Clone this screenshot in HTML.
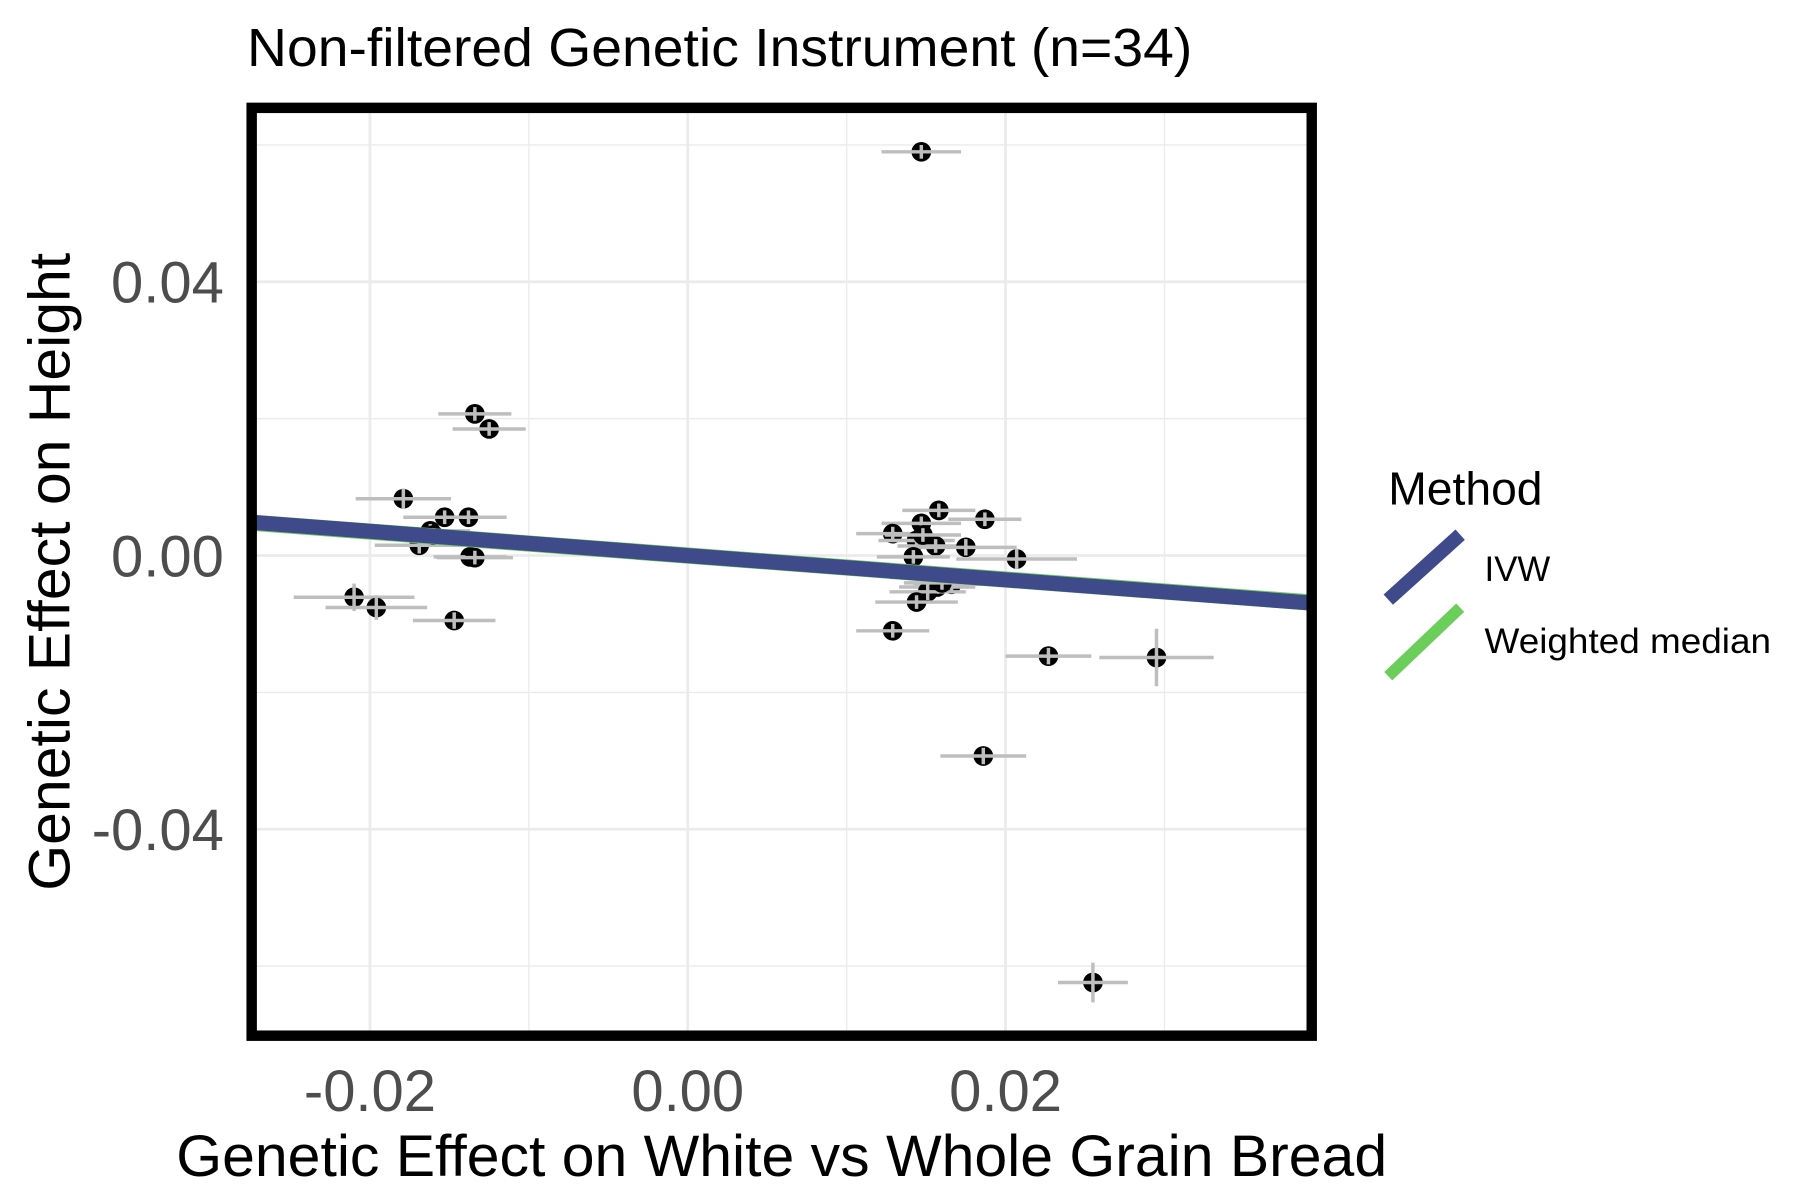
<!DOCTYPE html>
<html><head><meta charset="utf-8"><style>
html,body{margin:0;padding:0;background:#fff;}
svg{display:block;}
text{font-family:"Liberation Sans",sans-serif;}
</style></head><body>
<svg id="chart" width="1800" height="1200" viewBox="0 0 1552 1034.67" preserveAspectRatio="none" xmlns="http://www.w3.org/2000/svg">
<rect x="0" y="0" width="1552" height="1035" fill="#fff"/>
<text x="213" y="57" font-size="46" textLength="815" lengthAdjust="spacingAndGlyphs" fill="#000">Non-filtered Genetic Instrument (n=34)</text>
<g id="grid"></g>
<g id="points"></g>
<g id="lines"></g>
<rect x="217" y="93" width="914" height="800" fill="none" stroke="#000" stroke-width="9"/>
<g id="ticks"></g>
<text x="152" y="1014" font-size="50" textLength="1044" lengthAdjust="spacingAndGlyphs" fill="#000">Genetic Effect on White vs Whole Grain Bread</text>
<text transform="translate(60,768) rotate(-90)" font-size="50" textLength="550" lengthAdjust="spacingAndGlyphs" fill="#000">Genetic Effect on Height</text>
<g>
<text x="1197" y="435" font-size="40" textLength="133" lengthAdjust="spacingAndGlyphs" fill="#000">Method</text>
<line x1="1197" y1="517" x2="1259" y2="461" stroke="#3F4A8A" stroke-width="12"/>
<text x="1280" y="501" font-size="30" fill="#000">IVW</text>
<line x1="1197" y1="583" x2="1259" y2="524" stroke="#6BCD5A" stroke-width="10"/>
<text x="1280" y="563" font-size="30" textLength="247" lengthAdjust="spacingAndGlyphs" fill="#000">Weighted median</text>
</g>
</svg>
<script>
const xs   = [0.0147,-0.0134,-0.0125,-0.0179,-0.0153,-0.0138,-0.0162,-0.0169,-0.0137,-0.0134,-0.0210,-0.0196,-0.0147,0.0158,0.0187,0.0147,0.0129,0.0144,0.0156,0.0175,0.0142,0.0207,0.0166,0.0157,0.0151,0.0144,0.0129,0.0227,0.0295,0.0186,0.0255,0.0160,0.0148,-0.0160];
const ys   = [0.0590,0.0207,0.0185,0.0083,0.0056,0.0056,0.0036,0.0015,-0.0002,-0.0003,-0.0061,-0.0076,-0.0095,0.0066,0.0053,0.0047,0.0032,0.0022,0.0014,0.0012,-0.0002,-0.0005,-0.0042,-0.0046,-0.0053,-0.0068,-0.0110,-0.0147,-0.0149,-0.0293,-0.0624,-0.0040,0.0030,0.0030];
const xerr = [0.0025,0.0023,0.0023,0.0030,0.0026,0.0024,0.0025,0.0028,0.0023,0.0024,0.0038,0.0032,0.0026,0.0023,0.0023,0.0025,0.0023,0.0024,0.0024,0.0032,0.0023,0.0038,0.0024,0.0024,0.0024,0.0026,0.0023,0.0027,0.0036,0.0027,0.0022,0.0024,0.0024,0.0025];
const yerr = [0.0010,0.0010,0.0010,0.0015,0.0010,0.0010,0.0010,0.0012,0.0010,0.0010,0.0020,0.0018,0.0012,0.0010,0.0010,0.0010,0.0010,0.0010,0.0010,0.0012,0.0010,0.0015,0.0010,0.0010,0.0012,0.0010,0.0010,0.0012,0.0042,0.0012,0.0029,0.0010,0.0010,0.0010];
const slopes = [-0.177,-0.175];
const methods = ['ivw','weighted-median'];
const xTicks = [-0.02,0,0.02];
const xTickLabels = ['-0.02','0.00','0.02'];
const yTicks = [0.04,0,-0.04];
const yTickLabels = ['0.04','0.00','-0.04'];
const xMinor = [-0.01,0.01,0.03];
const yMinor = [0.06,0.02,-0.02,-0.06];

const NS='http://www.w3.org/2000/svg';
const X0=217,X1=1131,Y0=93,Y1=893;
const sx=v=>593+v*13700;
const sy=v=>479-v*5900;
function mk(tag,attrs,parent){const e=document.createElementNS(NS,tag);for(const k in attrs)e.setAttribute(k,attrs[k]);parent.appendChild(e);return e;}
const grid=document.getElementById('grid'),pts=document.getElementById('points'),lines=document.getElementById('lines'),ticks=document.getElementById('ticks');
xMinor.forEach(v=>{const l=mk('line',{x1:sx(v),x2:sx(v),y1:Y0,y2:Y1,stroke:'#ebebeb','stroke-width':1.2},grid);

});
yMinor.forEach(v=>{const l=mk('line',{x1:X0,x2:X1,y1:sy(v),y2:sy(v),stroke:'#ebebeb','stroke-width':1.2},grid);

});
xTicks.forEach((v,i)=>{const l=mk('line',{x1:sx(v),x2:sx(v),y1:Y0,y2:Y1,stroke:'#ebebeb','stroke-width':2.4},grid);


const t=mk('text',{x:sx(v),y:958,'font-size':50,fill:'#4d4d4d','text-anchor':'middle'},ticks);t.textContent=xTickLabels[i];

});
yTicks.forEach((v,i)=>{const l=mk('line',{x1:X0,x2:X1,y1:sy(v),y2:sy(v),stroke:'#ebebeb','stroke-width':2.4},grid);


const t=mk('text',{x:193,y:sy(v)+18,'font-size':50,fill:'#4d4d4d','text-anchor':'end'},ticks);t.textContent=yTickLabels[i];

});
xs.forEach((v,i)=>{const cx=sx(v),cy=sy(ys[i]);
const c=mk('circle',{cx:cx,cy:cy,r:8.5,fill:'#000'},pts);


const h=mk('line',{x1:sx(v-xerr[i]),x2:sx(v+xerr[i]),y1:cy,y2:cy,stroke:'#bebebe','stroke-width':3},pts);


const vv=mk('line',{x1:cx,x2:cx,y1:sy(ys[i]+yerr[i]),y2:sy(ys[i]-yerr[i]),stroke:'#bebebe','stroke-width':3},pts);

});
const xl=-0.0273,xr=0.0390;
[1,0].forEach(k=>{const l=mk('line',{x1:sx(xl),y1:sy(slopes[k]*xl),x2:sx(xr),y2:sy(slopes[k]*xr),stroke:k===0?'#3F4A8A':'#6BCD5A','stroke-width':k===0?13:14},lines);

});
</script>
</body></html>
